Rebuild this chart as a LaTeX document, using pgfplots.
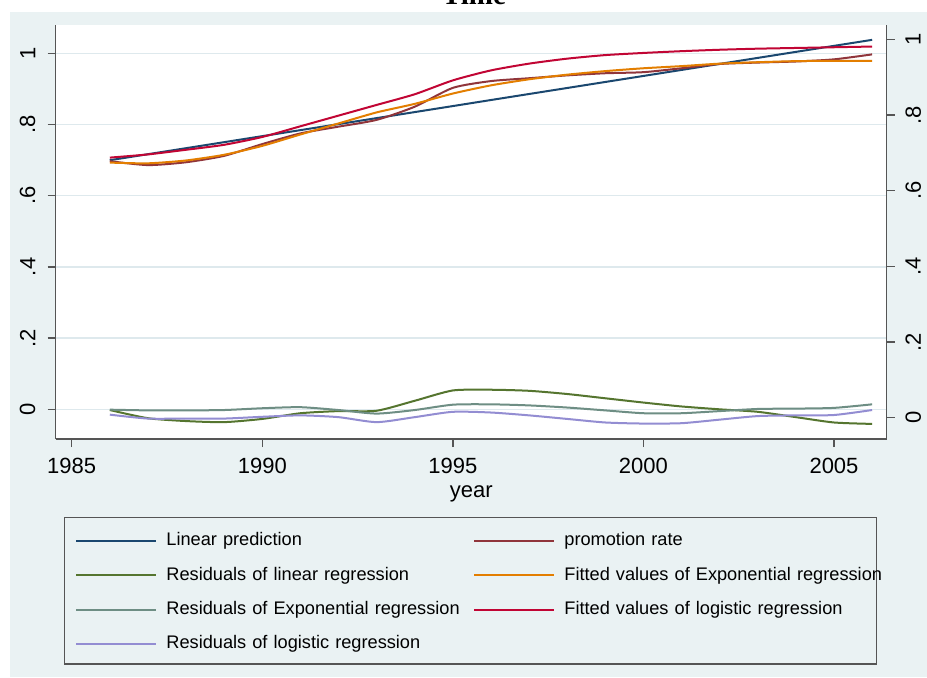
\documentclass[border=0pt]{standalone}
\usepackage{fontspec}
\setmainfont{Liberation Sans}
\newfontfamily\titlefont{Liberation Serif}
\usepackage{pgfplots}
\pgfplotsset{compat=1.18}
\definecolor{stnavy}{RGB}{26,71,111}
\definecolor{stmaroon}{RGB}{144,53,59}
\definecolor{stgreen}{RGB}{85,117,47}
\definecolor{storange}{RGB}{227,126,0}
\definecolor{stteal}{RGB}{110,142,132}
\definecolor{stcran}{RGB}{193,5,52}
\definecolor{stlav}{RGB}{147,141,210}
\definecolor{bgc}{RGB}{234,242,243}
\definecolor{gridc}{RGB}{222,233,237}
\definecolor{axc}{RGB}{85,85,85}
\begin{document}
\begin{tikzpicture}[x=0.5pt,y=0.5pt]
\useasboundingbox (0,0) rectangle (927,677);
\clip (0,0) rectangle (927,677);
\fill[white] (0,0) rectangle (927,677);
\fill[bgc] (10,0) rectangle (927,665);
\node[anchor=base, font=\titlefont\bfseries\fontsize{14.5}{16}\selectfont, inner sep=0pt] at (474,673) {Time};
\draw[axc, line width=0.6pt] (64.3,13) rectangle (876.7,159.3);
\begin{axis}[
  at={(27.85pt,119pt)}, anchor=south west, scale only axis,
  width=415.5pt, height=207pt,
  xmin=1984.58, xmax=2006.383, ymin=-0.0834, ymax=1.0795,
  axis x line*=bottom, axis y line*=left,
  axis line style={axc, line width=0.65pt, -},
  tick align=outside, major tick length=4pt,
  tick style={axc, line width=0.65pt},
  xtick={1985,1990,1995,2000,2005},
  xticklabels={1985,1990,1995,2000,2005},
  ytick={0,0.2,0.4,0.6,0.8,1},
  yticklabels={0,.2,.4,.6,.8,1},
  /pgf/number format/assume math mode=true,
  ymajorgrids, grid style={gridc, line width=0.75pt},
  axis background/.style={fill=white},
  ticklabel style={font=\fontsize{11}{13}\selectfont},
  xticklabel style={anchor=north, inner sep=0pt, yshift=-5.5pt},
  yticklabel style={rotate=90, anchor=south, inner sep=0pt, yshift=6pt},
  xlabel={year},
  xlabel style={font=\fontsize{11}{13}\selectfont, at={(axis description cs:0.5,-0.141)}, anchor=base, inner sep=0pt},
  legend columns=2,
  legend cell align=left,
  legend style={draw=none, fill=none, at={(0.02323,-0.2251)}, anchor=north west, inner sep=0pt,
    font=\fontsize{9.1}{11}\selectfont, column sep=4.5pt, row sep=8.65pt,
    nodes={inner sep=0pt, text width=149pt, text height=6.6pt, text depth=1.9pt}},
  legend image code/.code={\draw[#1, line width=1pt] (0pt,0pt) -- (40pt,0pt);},
  every axis plot/.append style={line width=1pt, smooth, tension=0.4},
]
\addplot[stnavy] coordinates {
(1986,0.6997) (1987,0.7166) (1988,0.7335) (1989,0.7504) (1990,0.7673) (1991,0.7842) (1992,0.8011)
(1993,0.8180) (1994,0.8349) (1995,0.8518) (1996,0.8688) (1997,0.8857) (1998,0.9026) (1999,0.9195)
(2000,0.9364) (2001,0.9533) (2002,0.9702) (2003,0.9871) (2004,1.0040) (2005,1.0209) (2006,1.0378)};
\addlegendentry{Linear prediction}
\addplot[stmaroon] coordinates {
(1986,0.697) (1987,0.686) (1988,0.694) (1989,0.712) (1990,0.745) (1991,0.775) (1992,0.794)
(1993,0.813) (1994,0.850) (1995,0.903) (1996,0.922) (1997,0.930) (1998,0.938) (1999,0.944)
(2000,0.947) (2001,0.958) (2002,0.970) (2003,0.974) (2004,0.977) (2005,0.983) (2006,0.997)};
\addlegendentry{promotion rate}
\addplot[stgreen] coordinates {
(1986,-0.002) (1987,-0.025) (1988,-0.033) (1989,-0.036) (1990,-0.027) (1991,-0.011) (1992,-0.005)
(1993,-0.004) (1994,0.024) (1995,0.053) (1996,0.055) (1997,0.052) (1998,0.043) (1999,0.031)
(2000,0.019) (2001,0.008) (2002,0.000) (2003,-0.007) (2004,-0.022) (2005,-0.037) (2006,-0.041)};
\addlegendentry{Residuals of linear regression}
\addplot[storange] coordinates {
(1986,0.693) (1987,0.691) (1988,0.699) (1989,0.715) (1990,0.740) (1991,0.772) (1992,0.803)
(1993,0.834) (1994,0.858) (1995,0.887) (1996,0.910) (1997,0.927) (1998,0.940) (1999,0.950)
(2000,0.958) (2001,0.964) (2002,0.971) (2003,0.975) (2004,0.978) (2005,0.979) (2006,0.979)};
\addlegendentry{\mbox{Fitted values of Exponential regression}}
\addplot[stteal] coordinates {
(1986,-0.001) (1987,-0.003) (1988,-0.003) (1989,-0.002) (1990,0.003) (1991,0.006) (1992,-0.002)
(1993,-0.012) (1994,-0.002) (1995,0.013) (1996,0.014) (1997,0.011) (1998,0.005) (1999,-0.003)
(2000,-0.011) (2001,-0.011) (2002,-0.005) (2003,0.001) (2004,0.002) (2005,0.004) (2006,0.014)};
\addlegendentry{Residuals of Exponential regression}
\addplot[stcran] coordinates {
(1986,0.707) (1987,0.716) (1988,0.729) (1989,0.743) (1990,0.765) (1991,0.795) (1992,0.825)
(1993,0.855) (1994,0.885) (1995,0.924) (1996,0.952) (1997,0.971) (1998,0.985) (1999,0.995)
(2000,1.001) (2001,1.006) (2002,1.010) (2003,1.013) (2004,1.015) (2005,1.017) (2006,1.019)};
\addlegendentry{Fitted values of logistic regression}
\addplot[stlav] coordinates {
(1986,-0.015) (1987,-0.026) (1988,-0.026) (1989,-0.026) (1990,-0.021) (1991,-0.017) (1992,-0.022)
(1993,-0.036) (1994,-0.022) (1995,-0.007) (1996,-0.009) (1997,-0.017) (1998,-0.027) (1999,-0.037)
(2000,-0.040) (2001,-0.039) (2002,-0.029) (2003,-0.019) (2004,-0.017) (2005,-0.016) (2006,-0.002)};
\addlegendentry{Residuals of logistic regression}
\end{axis}
\begin{axis}[
  at={(27.85pt,119pt)}, anchor=south west, scale only axis,
  width=415.5pt, height=207pt,
  xmin=1984.58, xmax=2006.383, ymin=-0.0563, ymax=1.0378,
  axis x line=none, axis y line*=right,
  axis line style={axc, line width=0.65pt, -},
  tick align=outside, major tick length=4pt,
  tick style={axc, line width=0.65pt},
  ytick={0,0.2,0.4,0.6,0.8,1},
  yticklabels={0,.2,.4,.6,.8,1},
  /pgf/number format/assume math mode=true,
  ticklabel style={font=\fontsize{11}{13}\selectfont},
  yticklabel style={rotate=90, anchor=north, inner sep=0pt, yshift=-5.15pt},
]
\addplot[draw=none] coordinates {(1990,0.5)};
\end{axis}
\end{tikzpicture}
\end{document}
